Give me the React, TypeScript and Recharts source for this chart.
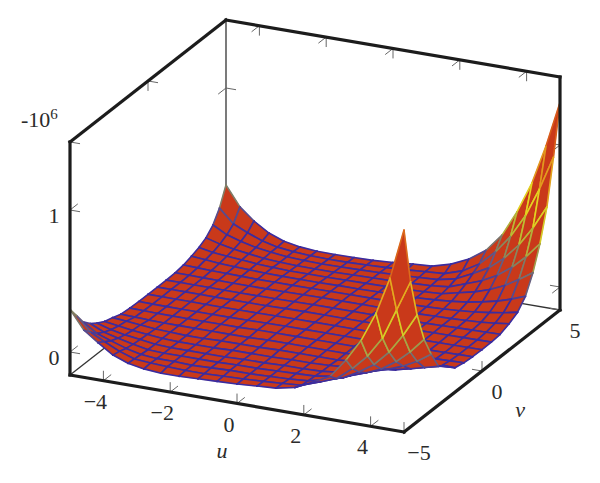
import { ScatterChart, Scatter, XAxis, YAxis } from 'recharts';

// mesh lines sit closer together near the edges of the box
const uGrid = [-5, -4.581, -4.162, -3.713, -3.264, -2.785, -2.276, -1.737, -1.168, -0.599, 0, 0.599, 1.168, 1.737, 2.276, 2.785, 3.264, 3.713, 4.162, 4.581, 5];
const vGrid = uGrid;

// surface height in units of -10^6, one row per v (front to back), one column per u
const surfaceZ = [
    [.30, .17, .10, .03, -.01, -.03, -.04, -.04, -.035, -.03, -.025, -.015, -.007, .02, .08, .14, .275, .43, .64, .905, 1.26],
    [.22, .12, .07, .02, -.015, -.025, -.03, -.035, -.035, -.03, -.025, -.018, -.01, 0, .045, .09, .18, .285, .43, .645, .86],
    [.14, .075, .04, .005, -.02, -.03, -.03, -.035, -.03, -.025, -.025, -.02, -.015, -.005, .025, .06, .12, .19, .295, .43, .59],
    [.09, .045, .02, -.005, -.025, -.03, -.03, -.03, -.03, -.025, -.025, -.02, -.015, -.01, .01, .035, .075, .12, .19, .275, .38],
    [.054, .025, .005, -.01, -.025, -.03, -.03, -.03, -.03, -.025, -.025, -.02, -.02, -.015, 0, .02, .048, .08, .12, .17, .237],
    [.025, .01, -.005, -.015, -.025, -.03, -.03, -.03, -.025, -.025, -.025, -.02, -.02, -.015, -.005, .008, .02, .035, .06, .085, .11],
    [.008, 0, -.01, -.02, -.025, -.03, -.03, -.025, -.025, -.025, -.02, -.02, -.02, -.02, -.01, 0, .01, .02, .035, .05, .07],
    [-.014, -.018, -.022, -.025, -.025, -.025, -.025, -.025, -.025, -.02, -.02, -.02, -.02, -.02, -.016, -.01, -.008, -.004, 0, .005, .01],
    [-.02, -.022, -.024, -.025, -.025, -.025, -.025, -.025, -.02, -.02, -.02, -.02, -.02, -.02, -.02, -.016, -.014, -.012, -.01, -.007, -.004],
    [-.023, -.024, -.025, -.025, -.025, -.025, -.025, -.024, -.022, -.02, -.02, -.02, -.02, -.02, -.02, -.018, -.016, -.015, -.014, -.012, -.01],
    [-.024, -.024, -.024, -.024, -.025, -.025, -.025, -.024, -.022, -.02, -.02, -.02, -.02, -.02, -.019, -.018, -.016, -.015, -.014, -.013, -.012],
    [-.024, -.024, -.024, -.024, -.025, -.025, -.025, -.024, -.022, -.02, -.02, -.02, -.02, -.02, -.019, -.016, -.014, -.013, -.012, -.011, -.01],
    [-.024, -.024, -.024, -.024, -.025, -.025, -.025, -.024, -.022, -.02, -.02, -.02, -.02, -.02, -.018, -.016, -.013, -.01, -.008, -.006, -.004],
    [-.021, -.022, -.023, -.024, -.025, -.025, -.025, -.024, -.022, -.02, -.02, -.02, -.02, -.019, -.018, -.015, -.012, -.007, -.002, .008, .022],
    [-.012, -.016, -.019, -.021, -.023, -.025, -.025, -.025, -.024, -.023, -.021, -.021, -.02, -.018, -.015, -.01, -.003, .006, .02, .036, .055],
    [.006, -.003, -.012, -.017, -.021, -.025, -.027, -.027, -.027, -.025, -.024, -.022, -.02, -.016, -.01, 0, .014, .034, .057, .088, .125],
    [.026, .008, -.002, -.01, -.02, -.026, -.03, -.03, -.03, -.028, -.026, -.024, -.021, -.015, -.008, .02, .045, .08, .126, .185, .25],
    [.055, .028, .008, -.006, -.02, -.028, -.032, -.033, -.033, -.03, -.027, -.024, -.018, -.012, .002, .045, .085, .14, .215, .305, .415],
    [.107, .055, .025, 0, -.015, -.028, -.034, -.036, -.035, -.032, -.028, -.022, -.015, -.007, .02, .078, .137, .222, .334, .471, .635],
    [.19, .095, .05, .01, -.015, -.028, -.036, -.039, -.038, -.034, -.028, -.02, -.01, -.001, .04, .11, .213, .339, .504, .708, .95],
    [.317, .18, .097, .03, -.01, -.03, -.04, -.042, -.04, -.037, -.028, -.015, -.007, .03, .088, .17, .296, .477, .70, .976, 1.30],
];

const uTicks = [-4, -2, 0, 2, 4];
const vTicks = [-5, 0, 5];
const zTicks = [0, 1];
const Z_MIN = -0.162;
const Z_MAX = 1.479;

const FILL = '#c9391a';
const AXIS = '#1c1c1c';
const TICK = '#666666';
const TEXT = '#2b2b2b';
const SERIF = '"Liberation Serif", serif';

// height -> mesh line colour, blue at the floor through grey and yellow to orange at the tips
const colourStops: [number, number[]][] = [
    [0.06, [58, 44, 160]],
    [0.16, [92, 84, 140]],
    [0.26, [130, 130, 100]],
    [0.42, [190, 190, 50]],
    [0.6, [228, 212, 32]],
    [0.85, [226, 150, 30]],
    [1.2, [214, 80, 26]],
];

function lineColour(z: number) {
    if (z <= colourStops[0][0]) return `rgb(${colourStops[0][1].join(',')})`;
    for (let k = 1; k < colourStops.length; k++) {
        const [z1, c1] = colourStops[k];
        if (z <= z1) {
            const [z0, c0] = colourStops[k - 1];
            const t = (z - z0) / (z1 - z0);
            return `rgb(${c0.map((c, n) => Math.round(c + (c1[n] - c) * t)).join(',')})`;
        }
    }
    return `rgb(${colourStops[colourStops.length - 1][1].join(',')})`;
}

// fixed oblique view of the box, result is in chart units
function project(u: number, v: number, z: number) {
    return {
        x: 70 + 33.4 * (u + 5) + 15.6 * (v + 5),
        y: 352 + 5.7 * (u + 5) - 12.2 * (v + 5) - 142 * z,
    };
}

const surfacePoints: { x: number; y: number }[] = [];
const surfaceEdges: string[][] = [];
// back to front: far corner is u=-5, v=5
for (let j = vGrid.length - 2; j >= 0; j--) {
    for (let i = 0; i < uGrid.length - 1; i++) {
        const a = surfaceZ[j][i];
        const b = surfaceZ[j][i + 1];
        const c = surfaceZ[j + 1][i + 1];
        const d = surfaceZ[j + 1][i];
        surfacePoints.push(
            project(uGrid[i], vGrid[j], a),
            project(uGrid[i + 1], vGrid[j], b),
            project(uGrid[i + 1], vGrid[j + 1], c),
            project(uGrid[i], vGrid[j + 1], d),
        );
        surfaceEdges.push([
            lineColour((a + b) / 2),
            lineColour((b + c) / 2),
            lineColour((c + d) / 2),
            lineColour((d + a) / 2),
        ]);
    }
}

type P3 = [number, number, number];
const seg = (a: P3, b: P3) => [project(...a), project(...b)];

const backEdges = [
    seg([-5, -5, Z_MIN], [-5, 5, Z_MIN]),
    seg([-5, 5, Z_MIN], [5, 5, Z_MIN]),
    seg([-5, 5, Z_MIN], [-5, 5, Z_MAX]),
].flat();

const frontEdges = [
    seg([-5, -5, Z_MAX], [-5, -5, Z_MIN]),
    seg([-5, -5, Z_MIN], [5, -5, Z_MIN]),
    seg([5, -5, Z_MIN], [5, 5, Z_MIN]),
    seg([5, 5, Z_MIN], [5, 5, Z_MAX]),
    seg([5, 5, Z_MAX], [-5, 5, Z_MAX]),
    seg([-5, 5, Z_MAX], [-5, -5, Z_MAX]),
].flat();

const tickPair = (p: P3, d1: P3, d2: P3) => [
    ...seg(p, [p[0] + d1[0], p[1] + d1[1], p[2] + d1[2]]),
    ...seg(p, [p[0] + d2[0], p[1] + d2[1], p[2] + d2[2]]),
];

const tickMarks = [
    ...uTicks.flatMap((u) => tickPair([u, -5, Z_MIN], [0, 0, 0.07], [0, 0.5, 0])),
    ...uTicks.flatMap((u) => tickPair([u, 5, Z_MAX], [0, 0, -0.07], [0, -0.5, 0])),
    ...vTicks.flatMap((v) => tickPair([5, v, Z_MIN], [0, 0, 0.07], [-0.3, 0, 0])),
    ...vTicks.slice(0, 2).flatMap((v) => tickPair([-5, v, Z_MAX], [0, 0, -0.07], [0.3, 0, 0])),
    ...zTicks.flatMap((z) => tickPair([-5, -5, z], [0.3, 0, 0], [0, 0.5, 0])),
    ...zTicks.flatMap((z) => tickPair([-5, 5, z], [0.3, 0, 0], [0, -0.5, 0])),
    ...zTicks.flatMap((z) => tickPair([5, 5, z], [-0.3, 0, 0], [0, -0.5, 0])),
];

const tickLabels = [
    ...uTicks.map((u) => {
        const p = project(u, -5, Z_MIN);
        return { x: p.x - 8, y: p.y + 28, label: u < 0 ? `\u2212${-u}` : `${u}` };
    }),
    ...vTicks.map((v) => {
        const p = project(5, v, Z_MIN);
        return { x: p.x + 15, y: p.y + 28, label: v < 0 ? `\u2212${-v}` : `${v}` };
    }),
    ...zTicks.map((z) => {
        const p = project(-5, -5, z);
        return { x: p.x - 16, y: p.y + 13, label: `${z}` };
    }),
];

const axisTitles = [
    { ...project(-0.45, -5, Z_MIN - 0.40), label: 'u' },
    { ...project(5, 2.44, Z_MIN - 0.534), label: 'v' },
];

const noMark = () => null;

function segments(stroke: string, width: number, cap = 'butt') {
    return (props: any) => {
        const pts = props.points;
        const out = [];
        for (let n = 0; n + 1 < pts.length; n += 2) {
            out.push(
                <line key={n} x1={pts[n].x} y1={pts[n].y} x2={pts[n + 1].x} y2={pts[n + 1].y}
                    stroke={stroke} strokeWidth={width} strokeLinecap={cap as any} />
            );
        }
        return <g>{out}</g>;
    };
}

function surfaceMesh(props: any) {
    const pts = props.points;
    const out = [];
    for (let n = 0; n < surfaceEdges.length; n++) {
        const q = pts.slice(n * 4, n * 4 + 4);
        out.push(
            <polygon key={`q${n}`} points={q.map((p: any) => `${p.x},${p.y}`).join(' ')}
                fill={FILL} stroke={FILL} strokeWidth={0.4} />
        );
        surfaceEdges[n].forEach((colour, e) => {
            const a = q[e];
            const b = q[(e + 1) % 4];
            out.push(
                <line key={`e${n}-${e}`} x1={a.x} y1={a.y} x2={b.x} y2={b.y}
                    stroke={colour} strokeWidth={1.6} strokeLinecap="round" />
            );
        });
    }
    return <g>{out}</g>;
}

function TickText(props: any) {
    return (
        <text x={props.cx} y={props.cy} textAnchor="middle" fontFamily={SERIF} fontSize={22} fill={TEXT}>
            {props.payload.label}
        </text>
    );
}

function TitleText(props: any) {
    return (
        <text x={props.cx} y={props.cy} textAnchor="middle" fontFamily={SERIF} fontStyle="italic" fontSize={22} fill={TEXT}>
            {props.payload.label}
        </text>
    );
}

function ScaleText(props: any) {
    return (
        <text x={props.cx} y={props.cy} fontFamily={SERIF} fontSize={22} fill={TEXT}>
            -10<tspan dy={-8} fontSize={15}>6</tspan>
        </text>
    );
}

export default function App() {
    return (
        <div style={{ position: 'absolute', left: 0, top: 0, width: 600, height: 483, background: '#fff' }}>
            <ScatterChart width={600} height={483} margin={{ top: 0, right: 0, bottom: 0, left: 0 }}>
                <XAxis type="number" dataKey="x" domain={[0, 600]} hide />
                <YAxis type="number" dataKey="y" domain={[0, 483]} reversed hide />
                <Scatter data={backEdges} shape={noMark} line={segments('#333333', 1.3)} isAnimationActive={false} />
                <Scatter data={tickMarks} shape={noMark} line={segments(TICK, 1)} isAnimationActive={false} />
                <Scatter data={surfacePoints} shape={noMark} line={surfaceMesh} isAnimationActive={false} />
                <Scatter data={frontEdges} shape={noMark} line={segments(AXIS, 3.2, 'square')} isAnimationActive={false} />
                <Scatter data={tickLabels} shape={TickText} isAnimationActive={false} />
                <Scatter data={axisTitles} shape={TitleText} isAnimationActive={false} />
                <Scatter data={[{ x: 21, y: 127 }]} shape={ScaleText} isAnimationActive={false} />
            </ScatterChart>
        </div>
    );
}
